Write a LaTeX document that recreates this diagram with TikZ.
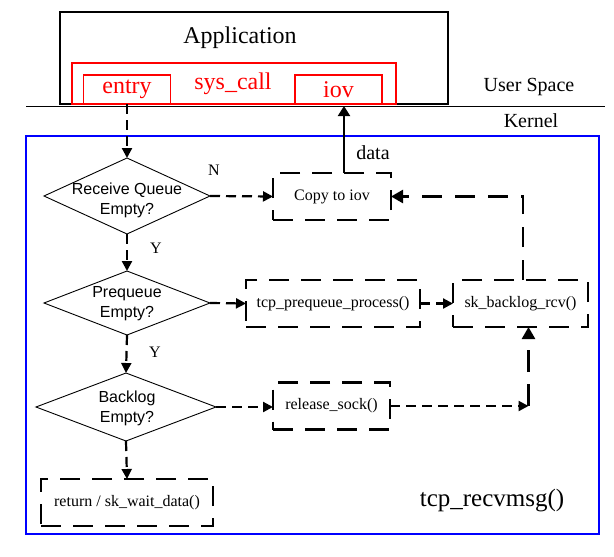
\documentclass[tikz,border=0pt]{standalone}
\usepackage{fontspec}
\setmainfont{Liberation Serif}
\newfontfamily\arialf{Liberation Sans}
\usetikzlibrary{arrows.meta,shapes.geometric,calc}
\begin{document}
\begin{tikzpicture}[x=1pt,y=-1pt,
  every node/.style={inner sep=0pt,outer sep=0pt},
  dbox/.style={draw,line width=2.7pt,dash pattern=on 20pt off 12pt,minimum height=47pt,font=\fontsize{16}{19}\selectfont},
  dmd/.style={diamond,draw,line width=0.9pt},
  dtext/.style={font=\arialf\fontsize{16}{20}\selectfont,align=center},
  conn/.style={line width=2.2pt,dash pattern=on 10pt off 6pt,-{Triangle[length=10pt,width=10pt]}},
  longconn/.style={line width=2.4pt,dash pattern=on 20pt off 13pt,-{Triangle[length=12pt,width=13pt]}},
  redbox/.style={draw=red,line width=1.3pt},
  redtext/.style={text=red,font=\fontsize{24}{28}\selectfont},
  lbl/.style={font=\fontsize{16}{19}\selectfont},
  side/.style={font=\fontsize{20}{24}\selectfont}]
\useasboundingbox (0,0) rectangle (614,557);
% user space
\node[draw,line width=1.5pt,minimum width=388pt,minimum height=92pt] (app) at (254,58) {};
\node[font=\fontsize{24}{28}\selectfont] (apptext) at (240,38) {Application};
\node[redbox,minimum width=324pt,minimum height=41pt] (sys) at (234,83.5) {};
\node[redtext] (systext) at (233,84) {sys\_call};
\node[redbox,redtext,minimum width=87pt,minimum height=29pt] (entry) at (127,89.5) {entry};
\node[redbox,redtext,minimum width=87pt,minimum height=29pt] (iov) at (338.5,89.5) {iov};
\coordinate (sepL) at (26,106);
\coordinate (sepR) at (605,106);
\draw[line width=1pt] (sepL) -- (sepR);
\node[side] (us) at (529,87) {User Space};
\node[side] (kern) at (531,121) {Kernel};
% kernel frame
\node[draw=blue,line width=1.3pt,minimum width=573pt,minimum height=398pt] (kbox) at (312.5,335) {};
% diamonds
\node[dmd,minimum width=166pt,minimum height=76pt] (d1) at (127,196) {};
\node[dtext] (d1t) at (127,200) {Receive Queue\\Empty?};
\node[dmd,minimum width=166pt,minimum height=64pt] (d2) at (127,303) {};
\node[dtext] (d2t) at (127,304) {Prequeue\\Empty?};
\node[dmd,minimum width=180pt,minimum height=68pt] (d3) at (126,407) {};
\node[dtext] (d3t) at (127,408) {Backlog\\Empty?};
% boxes
\node[dbox,minimum width=118pt] (copy) at (332,196.5) {Copy to iov};
\node[dbox,minimum width=174pt] (tcp) at (333,303.5) {tcp\_prequeue\_process()};
\node[dbox,minimum width=135pt] (sk) at (520.5,303.5) {sk\_backlog\_rcv()};
\node[dbox,minimum width=117pt] (rel) at (331.5,406) {release\_sock()};
\node[dbox,minimum width=172pt] (ret) at (127,502.5) {return / sk\_wait\_data()};
% labels
\node[lbl] (nlab) at (214,170) {N};
\node[lbl] (y1) at (156,248) {Y};
\node[lbl] (y2) at (155,352) {Y};
\node[side] (data) at (373,153) {data};
\node[font=\fontsize{25}{29}\selectfont] (fn) at (492,501) {tcp\_recvmsg()};
% connectors
\coordinate (corner) at ([xshift=8pt]sk.south |- rel.east);
\draw[conn] (entry.south) -- (d1.north);
\draw[conn] (d1.south) -- (d2.north);
\draw[conn] (d2.south) -- (d3.north);
\draw[conn] (d3.south) -- (ret.north);
\draw[conn] (d1.east) -- (copy.west);
\draw[conn] (d2.east) -- (tcp.west);
\draw[conn] (tcp.east) -- (sk.west);
\draw[conn] (d3.east) -- (rel.west |- d3.east);
\draw[conn] (rel.east) -- (corner);
\draw[longconn,dash pattern=on 22pt off 12pt] (corner) -- ([xshift=8pt]sk.south);
\draw[longconn] ([xshift=2.5pt]sk.north) |- (copy.east);
\draw[line width=2pt,-{Triangle[length=10pt,width=12pt]}] ([xshift=12pt]copy.north) -- ([xshift=12pt]copy.north |- sepL);
\end{tikzpicture}
\end{document}
